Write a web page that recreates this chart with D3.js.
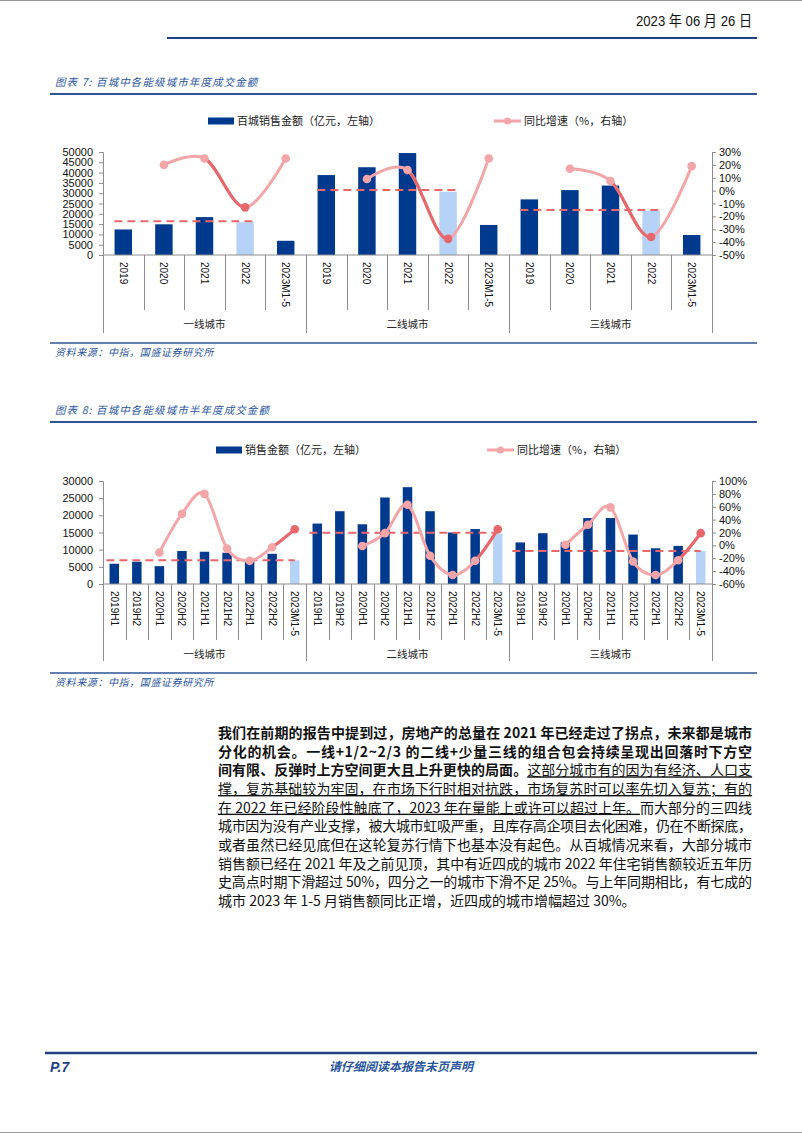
<!DOCTYPE html>
<html><head><meta charset="utf-8">
<script src="https://cdn.jsdelivr.net/npm/d3@7"></script>
<style>body{margin:0;background:#fff} svg{display:block}</style>
</head><body>
<svg id="page" width="802" height="1133"></svg>
<script>
// ---------- DATA ----------
const tiers = ["一线城市", "二线城市", "三线城市"];
// chart 7 (annual)
const years = ["2019", "2020", "2021", "2022", "2023M1-5"];
const annualSalesT1 = [12400, 14900, 18400, 15900, 6900];
const annualSalesT2 = [38800, 42600, 49500, 30700, 14600];
const annualSalesT3 = [27000, 31500, 33700, 21500, 9700];
const annualYoyT1 = [null, 20, 25, -13, 25];
const annualYoyT2 = [null, 9, 16, -37.5, 25];
const annualYoyT3 = [null, 17, 7.5, -36, 19];
const annualRef = [16400, 31500, 21800];
const annualLeftTicks = [0, 5000, 10000, 15000, 20000, 25000, 30000, 35000, 40000, 45000, 50000];
const annualRightTicks = [-50, -40, -30, -20, -10, 0, 10, 20, 30];
// chart 8 (half-year)
const halves = ["2019H1", "2019H2", "2020H1", "2020H2", "2021H1", "2021H2", "2022H1", "2022H2", "2023M1-5"];
const halfSalesT1 = [5900, 6500, 5200, 9600, 9400, 9100, 7000, 8800, 6900];
const halfSalesT2 = [17600, 21200, 17400, 25200, 28200, 21200, 15000, 16000, 14700];
const halfSalesT3 = [12100, 14800, 12100, 19200, 19200, 14400, 10400, 11100, 9600];
const halfYoyT1 = [null, null, -11, 49, 80, -5, -24, -3, 25];
const halfYoyT2 = [null, null, -1, 19, 63, -16, -46, -24, 25];
const halfYoyT3 = [null, null, 1, 32, 59, -25, -46, -23, 19];
const halfRef = [6950, 14900, 9600];
const halfLeftTicks = [0, 5000, 10000, 15000, 20000, 25000, 30000];
const halfRightTicks = [-60, -40, -20, 0, 20, 40, 60, 80, 100];

// ---------- STYLE ----------
const NAVY = "#003a8f", LIGHT = "#b6d2f6", PINK = "#f4a5a8", RED = "#e8676b";
const TITLE = "#2a56a0";
const CJK = "'Noto Sans CJK SC', sans-serif";
const NUM = "'Liberation Sans', Arial, sans-serif";
const svg = d3.select("#page");

// page frame lines
svg.append("line").attr("x1", 0).attr("x2", 802).attr("y1", 0.5).attr("y2", 0.5).attr("stroke", "#999");
svg.append("line").attr("x1", 0).attr("x2", 802).attr("y1", 1132.5).attr("y2", 1132.5).attr("stroke", "#999");

// header
svg.append("text").attr("x", 752).attr("y", 26).attr("text-anchor", "end")
  .attr("font-size", 14.5).attr("fill", "#111")
  .attr("textLength", 116).attr("lengthAdjust", "spacingAndGlyphs")
  .style("font-family", NUM + ", " + CJK)
  .text("2023 年 06 月 26 日");
svg.append("line").attr("x1", 167).attr("x2", 757).attr("y1", 38).attr("y2", 38)
  .attr("stroke", "#1f3f86").attr("stroke-width", 2);

function titleBlock(y, title) {
  svg.append("text").attr("x", 55).attr("y", y).attr("font-family", CJK)
    .attr("font-size", 10.5).attr("font-style", "italic").attr("fill", TITLE)
    .attr("letter-spacing", "1.1px").text(title);
  svg.append("line").attr("x1", 50).attr("x2", 757).attr("y1", y + 8).attr("y2", y + 8)
    .attr("stroke", "#2e5496").attr("stroke-width", 2);
}
function sourceBlock(y) {
  svg.append("line").attr("x1", 50).attr("x2", 757).attr("y1", y).attr("y2", y)
    .attr("stroke", "#2e5496").attr("stroke-width", 1.5);
  svg.append("text").attr("x", 55).attr("y", y + 13).attr("font-family", CJK)
    .attr("font-size", 10).attr("font-style", "italic").attr("fill", TITLE)
    .attr("letter-spacing", "0.6px").text("资料来源：中指，国盛证券研究所");
}

function drawChart(cfg) {
  const g = svg.append("g");
  const keys = [];
  cfg.cats.forEach((t, ti) => cfg.subs.forEach((s, si) => keys.push(ti + "|" + si)));
  const x = d3.scaleBand().domain(keys).range([cfg.x0, cfg.x1]);
  const step = x.step();
  const bw = step * cfg.barRatio;
  const cx = k => x(k) + step / 2;
  const yL = d3.scaleLinear().domain(cfg.leftDomain).range([cfg.yBot, cfg.yTop]);
  const yR = d3.scaleLinear().domain(cfg.rightDomain).range([cfg.yBot, cfg.yTop]);

  // bars
  cfg.sales.forEach((arr, ti) => {
    arr.forEach((v, si) => {
      const k = ti + "|" + si;
      g.append("rect").attr("x", cx(k) - bw / 2).attr("y", yL(v))
        .attr("width", bw).attr("height", yL(0) - yL(v))
        .attr("fill", si === cfg.lightIdx ? LIGHT : NAVY);
    });
  });

  // axes
  const axL = d3.axisLeft(yL).tickValues(cfg.leftTicks).tickSize(4).tickPadding(6).tickFormat(d3.format("d"));
  const gL = g.append("g").attr("transform", `translate(${cfg.x0},0)`).call(axL);
  const axR = d3.axisRight(yR).tickValues(cfg.rightTicks).tickSize(4).tickPadding(6).tickFormat(d => d + "%");
  const gR = g.append("g").attr("transform", `translate(${cfg.x1},0)`).call(axR);
  [gL, gR].forEach(a => {
    a.select(".domain").attr("stroke", "#8c8c8c");
    a.selectAll(".tick line").attr("stroke", "#8c8c8c");
    a.selectAll("text").attr("font-family", NUM).attr("font-size", 11).attr("fill", "#111");
  });
  gR.selectAll("text").attr("dx", -3);

  // category axis line
  g.append("line").attr("x1", cfg.x0).attr("x2", cfg.x1).attr("y1", cfg.yBot).attr("y2", cfg.yBot)
    .attr("stroke", "#8c8c8c");
  const nSub = cfg.subs.length;
  for (let k = 0; k <= keys.length; k++) {
    const xx = Math.round(cfg.x0 + k * step) + 0.5;
    const isGroup = k % nSub === 0;
    g.append("line").attr("x1", xx).attr("x2", xx).attr("y1", cfg.yBot)
      .attr("y2", isGroup ? cfg.groupSepEnd : cfg.catSepEnd).attr("stroke", "#8c8c8c");
  }
  // category labels
  keys.forEach(k => {
    const si = +k.split("|")[1];
    g.append("text").attr("transform", `translate(${cx(k)},${cfg.labelTop}) rotate(90)`)
      .attr("dy", "0.35em").attr("font-family", NUM).attr("font-size", 10).attr("fill", "#111")
      .text(cfg.subs[si]);
  });
  // group labels
  cfg.cats.forEach((t, ti) => {
    const mid = cfg.x0 + (ti + 0.5) * nSub * step;
    g.append("text").attr("x", mid).attr("y", cfg.groupLabelY).attr("text-anchor", "middle")
      .attr("font-family", CJK).attr("font-size", 10.5).attr("fill", "#222").text(t);
  });

  // reference dashed lines
  cfg.refs.forEach((v, ti) => {
    const a = cx(ti + "|" + cfg.refFrom) - cfg.refPadL * step;
    const b = cx(ti + "|" + cfg.refTo) + cfg.refPadR * step;
    g.append("line").attr("x1", a).attr("x2", b).attr("y1", yL(v)).attr("y2", yL(v))
      .attr("stroke", RED).attr("stroke-width", 2).attr("stroke-dasharray", "8,5");
  });

  // yoy lines
  const line = d3.line().x(d => d.x).y(d => d.y).curve(d3.curveCardinal.tension(0));
  cfg.yoy.forEach((arr, ti) => {
    const pts = [];
    arr.forEach((v, si) => { if (v !== null) pts.push({ x: cx(ti + "|" + si), y: yR(v), si }); });
    g.append("path").attr("d", line(pts)).attr("fill", "none").attr("stroke", PINK)
      .attr("stroke-width", 3).attr("stroke-linecap", "round");
    const ds = cfg.darkSeg;
    const xa = cx(ti + "|" + ds), xb = cx(ti + "|" + (ds + 1));
    const cid = cfg.id + "clip" + ti;
    g.append("clipPath").attr("id", cid).append("rect")
      .attr("x", xa).attr("y", cfg.yTop - 40).attr("width", xb - xa).attr("height", cfg.yBot - cfg.yTop + 80);
    g.append("path").attr("d", line(pts)).attr("fill", "none").attr("stroke", RED)
      .attr("stroke-width", 3).attr("clip-path", `url(#${cid})`);
    pts.forEach(p => {
      g.append("circle").attr("cx", p.x).attr("cy", p.y).attr("r", 4.3)
        .attr("fill", p.si === ds + 1 ? RED : PINK);
    });
  });

  // legend
  const L = cfg.legend;
  g.append("rect").attr("x", L.bx).attr("y", L.y - 3.5).attr("width", 26).attr("height", 7).attr("fill", NAVY);
  g.append("text").attr("x", L.bx + 29).attr("y", L.y).attr("dy", "0.36em").attr("font-family", CJK)
    .attr("font-size", 11).attr("fill", "#222").text(L.barText);
  g.append("line").attr("x1", L.lx).attr("x2", L.lx + 27).attr("y1", L.y).attr("y2", L.y)
    .attr("stroke", PINK).attr("stroke-width", 3);
  g.append("circle").attr("cx", L.lx + 13.5).attr("cy", L.y).attr("r", 3.5).attr("fill", PINK);
  g.append("text").attr("x", L.lx + 30).attr("y", L.y).attr("dy", "0.36em").attr("font-family", CJK)
    .attr("font-size", 11).attr("fill", "#222").text(L.lineText);
}

titleBlock(86, "图表 7:  百城中各能级城市年度成交金额");
drawChart({
  id: "c1", cats: tiers, subs: years, x0: 103, x1: 712, yTop: 152, yBot: 255,
  barRatio: 0.43, lightIdx: 3,
  leftDomain: [0, 50000], rightDomain: [-50, 30], leftTicks: annualLeftTicks, rightTicks: annualRightTicks,
  sales: [annualSalesT1, annualSalesT2, annualSalesT3],
  yoy: [annualYoyT1, annualYoyT2, annualYoyT3], darkSeg: 2,
  refs: annualRef, refFrom: 0, refTo: 3, refPadL: 0.22, refPadR: 0.22,
  labelTop: 262, catSepEnd: 310, groupSepEnd: 333, groupLabelY: 328,
  legend: { y: 121, bx: 208, lx: 494, barText: "百城销售金额（亿元，左轴）", lineText: "同比增速（%，右轴）" }
});
sourceBlock(343);

titleBlock(414, "图表 8:  百城中各能级城市半年度成交金额");
drawChart({
  id: "c2", cats: tiers, subs: halves, x0: 103, x1: 712, yTop: 481, yBot: 584,
  barRatio: 0.42, lightIdx: 8,
  leftDomain: [0, 30000], rightDomain: [-60, 100], leftTicks: halfLeftTicks, rightTicks: halfRightTicks,
  sales: [halfSalesT1, halfSalesT2, halfSalesT3],
  yoy: [halfYoyT1, halfYoyT2, halfYoyT3], darkSeg: 7,
  refs: halfRef, refFrom: 0, refTo: 8, refPadL: 0.35, refPadR: 0.0,
  labelTop: 591, catSepEnd: 640, groupSepEnd: 661, groupLabelY: 658,
  legend: { y: 450, bx: 216, lx: 487, barText: "销售金额（亿元，左轴）", lineText: "同比增速（%，右轴）" }
});
sourceBlock(673);

// ---------- paragraph ----------
const para = [
  [["我们在前期的报告中提到过，房地产的总量在 2021 年已经走过了拐点，未来都是城市", "b"]],
  [["分化的机会。一线+1/2~2/3 的二线+少量三线的组合包会持续呈现出回落时下方空", "b"]],
  [["间有限、反弹时上方空间更大且上升更快的局面。", "b"], ["这部分城市有的因为有经济、人口支", "u"]],
  [["撑，复苏基础较为牢固，在市场下行时相对抗跌，市场复苏时可以率先切入复苏；有的", "u"]],
  [["在 2022 年已经阶段性触底了，2023 年在量能上或许可以超过上年。", "u"], ["而大部分的三四线", "n"]],
  [["城市因为没有产业支撑，被大城市虹吸严重，且库存高企项目去化困难，仍在不断探底，", "n"]],
  [["或者虽然已经见底但在这轮复苏行情下也基本没有起色。从百城情况来看，大部分城市", "n"]],
  [["销售额已经在 2021 年及之前见顶，其中有近四成的城市 2022 年住宅销售额较近五年历", "n"]],
  [["史高点时期下滑超过 50%，四分之一的城市下滑不足 25%。与上年同期相比，有七成的", "n"]],
  [["城市 2023 年 1-5 月销售额同比正增，近四成的城市增幅超过 30%。", "n"]]
];
const px0 = 218, pW = 534;
para.forEach((segs, i) => {
  const t = svg.append("text").attr("x", px0).attr("y", 738 + i * 18.67)
    .attr("font-family", CJK).attr("font-size", 14).attr("fill", "#111");
  segs.forEach(([s, st]) => {
    const ts = t.append("tspan").text(s);
    if (st === "b") ts.attr("font-weight", "bold");
    if (st === "u") ts.style("text-decoration", "underline");
  });
  if (i < para.length - 1) {
    const w = t.node().getComputedTextLength();
    const n = segs.reduce((a, s) => a + s[0].length, 0);
    t.attr("letter-spacing", ((pW - w) / (n - 1)).toFixed(3) + "px");
  }
});

// footer
svg.append("line").attr("x1", 45).attr("x2", 757).attr("y1", 1053).attr("y2", 1053)
  .attr("stroke", "#1f3f86").attr("stroke-width", 2.5);
svg.append("text").attr("x", 50).attr("y", 1072).attr("font-family", NUM).attr("font-weight", "bold")
  .attr("font-style", "italic").attr("font-size", 14).attr("fill", "#1f3f86").text("P.7");
svg.append("text").attr("x", 401).attr("y", 1071).attr("text-anchor", "middle").attr("font-family", CJK)
  .attr("font-style", "italic").attr("font-weight", "bold").attr("font-size", 12).attr("fill", "#2a56a0")
  .text("请仔细阅读本报告末页声明");
</script></body></html>
